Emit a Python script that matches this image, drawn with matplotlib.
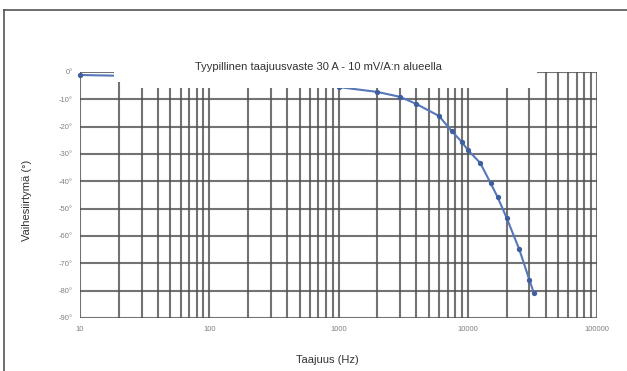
import matplotlib
matplotlib.use("Agg")
import matplotlib.pyplot as plt
from matplotlib.patches import Rectangle
from matplotlib.ticker import LogLocator, FixedLocator

# measured phase shift (deg) vs frequency (Hz)
freq_hz = [10, 100, 1000, 2000, 3000, 4000, 6000, 7500, 9000, 10000,
           12500, 15000, 17000, 20000, 25000, 30000, 32500]
phase_deg = [-1.1, -2.0, -5.5, -7.3, -9.1, -11.7, -16.1, -21.6, -25.6, -28.5,
             -33.3, -40.6, -45.7, -53.4, -64.8, -76.1, -80.9]

y_ticks = [0, -10, -20, -30, -40, -50, -60, -70, -80, -90]
x_ticks = [10, 100, 1000, 10000, 100000]

title = "Tyypillinen taajuusvaste 30 A - 10 mV/A:n alueella"
x_label = "Taajuus (Hz)"
y_label = "Vaihesiirtymä (°)"

plt.rcParams['font.family'] = ['Liberation Sans Narrow', 'Liberation Sans', 'DejaVu Sans']

W, H = 627, 371
fig = plt.figure(figsize=(W / 100, H / 100), dpi=100)
fig.patch.set_facecolor("white")

# plot area in pixels: x 80..597, y 72..318
ax = fig.add_axes([80 / W, (H - 318) / H, 517 / W, 246 / H])
ax.set_xscale("log")
ax.set_xlim(10, 100000)
ax.set_ylim(-90, 0)

ax.xaxis.set_major_locator(FixedLocator(x_ticks))
ax.xaxis.set_minor_locator(LogLocator(base=10, subs=range(2, 10)))
ax.yaxis.set_major_locator(FixedLocator(y_ticks))
ax.set_xticklabels([str(v) for v in x_ticks])
ax.set_yticklabels([f"{v}°" for v in y_ticks])

grid_kw = dict(color="#505050", lw=1.5, alpha=0.8)
ax.grid(True, which="major", axis="both", **grid_kw)
ax.grid(True, which="minor", axis="x", **grid_kw)
ax.set_axisbelow(True)

for s in ax.spines.values():
    s.set_visible(False)
ax.tick_params(axis="both", which="both", length=0, labelsize=5.5,
               labelcolor="#808080")
ax.tick_params(axis="x", pad=6)
ax.tick_params(axis="y", pad=5)

ax.plot(freq_hz, phase_deg, color="#5578bb", lw=1.5, marker="o",
        markersize=2.8, markerfacecolor="#3f5f9e", markeredgecolor="#3f5f9e",
        zorder=3, clip_on=False)

# white title box laid over the top of the grid
box_kw = dict(facecolor="white", edgecolor="none", zorder=5, clip_on=False,
              transform=fig.transFigure)
fig.patches.append(Rectangle((114 / W, (H - 82) / H), 9 / W, 70 / H, **box_kw))
fig.patches.append(Rectangle((123 / W, (H - 88) / H), 414 / W, 76 / H, **box_kw))

fig.text(318 / W, (H - 67) / H, title, ha="center", va="center",
         fontsize=8, color="#333333", zorder=6)
fig.text(327 / W, (H - 360) / H, x_label, ha="center", va="center",
         fontsize=8, color="#333333")
fig.text(27 / W, (H - 200) / H, y_label, ha="center", va="center",
         rotation=90, fontsize=8, color="#333333")

# outer frame (top and left edges visible)
frame_kw = dict(transform=fig.transFigure, color="#555555", lw=1.2, zorder=10)
fig.add_artist(plt.Line2D([4 / W, 4 / W], [0, (H - 10) / H], **frame_kw))
fig.add_artist(plt.Line2D([4 / W, 1], [(H - 10) / H, (H - 10) / H], **frame_kw))

fig.savefig("out.png", dpi=100, facecolor="white")
